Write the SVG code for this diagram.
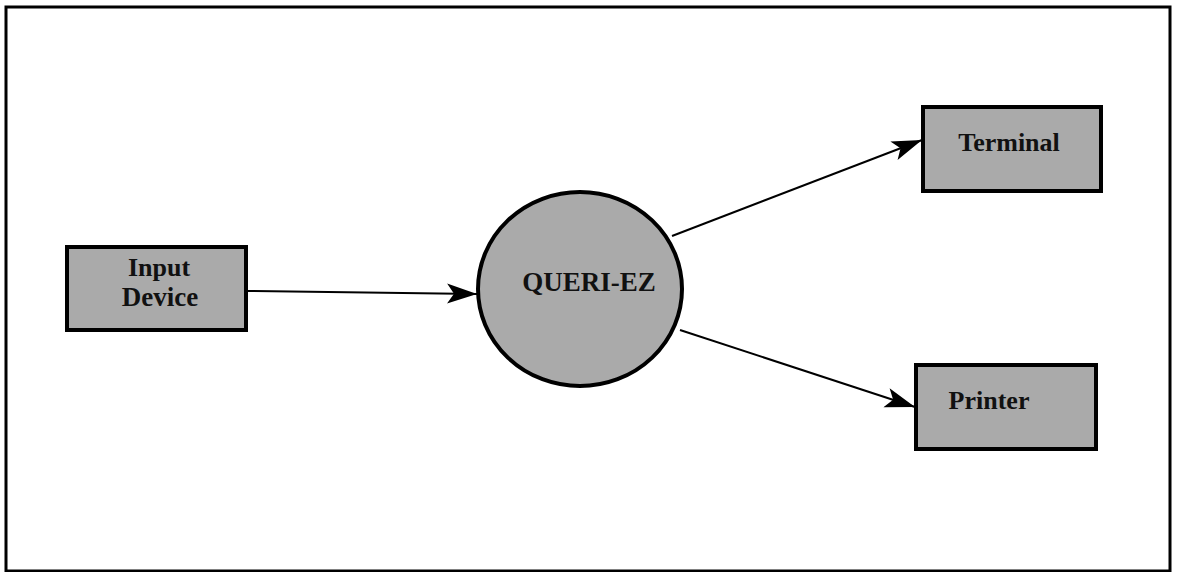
<svg xmlns="http://www.w3.org/2000/svg" width="1177" height="572" viewBox="0 0 1177 572">
<defs>
<marker id="arr" markerUnits="userSpaceOnUse" markerWidth="32" markerHeight="24" refX="30" refY="12" orient="auto">
<path d="M0,2 L30,12 L0,22 L7,12 Z" fill="#000"/>
</marker>
</defs>
<style>
.box{fill:#aaaaaa;stroke:#000;stroke-width:4}
.lbl{font-family:"Liberation Serif","Times New Roman",serif;font-weight:bold;fill:#111;text-anchor:middle}
.conn{stroke:#000;stroke-width:2;fill:none}
</style>
<rect x="0" y="0" width="1177" height="572" fill="#fff"/>
<rect id="frame" x="6" y="7" width="1164" height="564" fill="none" stroke="#000" stroke-width="3"/>
<g id="connectors">
<line class="conn" x1="247" y1="291" x2="477" y2="294" marker-end="url(#arr)"/>
<line class="conn" x1="672" y1="236" x2="922" y2="140" marker-end="url(#arr)"/>
<line class="conn" x1="680" y1="330" x2="915" y2="407" marker-end="url(#arr)"/>
</g>
<g id="input-device">
<rect class="box" x="67" y="247" width="179" height="83"/>
<text class="lbl" x="159" y="276" font-size="26">Input</text>
<text class="lbl" x="160" y="306" font-size="27">Device</text>
</g>
<g id="queri-ez">
<ellipse cx="580" cy="289" rx="102" ry="97" fill="#aaaaaa" stroke="#000" stroke-width="4"/>
<text class="lbl" x="589" y="291" font-size="27">QUERI-EZ</text>
</g>
<g id="terminal">
<rect class="box" x="923" y="107" width="178" height="84"/>
<text class="lbl" x="1009" y="151" font-size="26">Terminal</text>
</g>
<g id="printer">
<rect class="box" x="916" y="365" width="180" height="84"/>
<text class="lbl" x="989" y="409" font-size="26">Printer</text>
</g>
</svg>
